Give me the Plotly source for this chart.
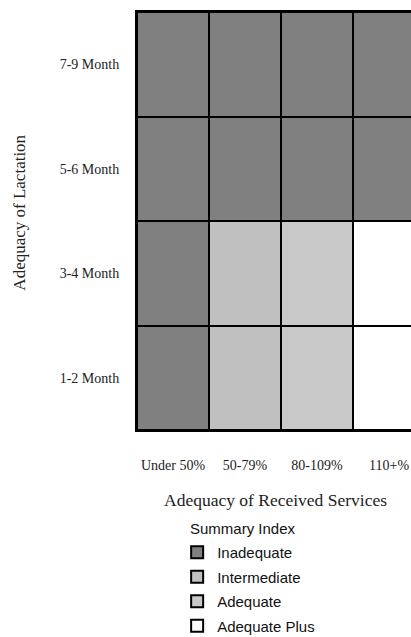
import plotly.graph_objects as go

services = ["Under 50%", "50-79%", "80-109%", "110+%"]
lactation = ["1-2 Month", "3-4 Month", "5-6 Month", "7-9 Month"]
categories = ["Inadequate", "Intermediate", "Adequate", "Adequate Plus"]
category_colors = ["#808080", "#c0c0c0", "#c8c8c8", "#ffffff"]

# category index per cell: rows follow `lactation`, columns follow `services`
summary_index = [
    [0, 1, 2, 3],
    [0, 1, 2, 3],
    [0, 0, 0, 0],
    [0, 0, 0, 0],
]

n = len(categories)
colorscale = []
for i, c in enumerate(category_colors):
    colorscale.append([i / n, c])
    colorscale.append([(i + 1) / n, c])

fig = go.Figure()
fig.add_trace(go.Heatmap(
    z=summary_index, x=services, y=lactation,
    zmin=-0.5, zmax=n - 0.5,
    colorscale=colorscale, showscale=False,
    xgap=2, ygap=2, hoverinfo="skip",
))

for name, col in zip(categories, category_colors):
    fig.add_trace(go.Scatter(
        x=[None], y=[None], mode="markers", name=name, legendgroup=name,
        marker=dict(symbol="square", size=12, color=col,
                    line=dict(color="black", width=2)),
    ))

serif = "Liberation Serif, Times New Roman, serif"
sans = "Liberation Sans, Arial, sans-serif"
fig.update_layout(
    width=411, height=637,
    margin=dict(l=137, r=0, t=12, b=207, autoexpand=False),
    paper_bgcolor="white", plot_bgcolor="black",
    font=dict(family=serif, size=14, color="#222"),
    xaxis=dict(
        type="category", range=[-0.5, 3.305],
        showline=True, linecolor="black", linewidth=2, mirror=True,
        showgrid=False, zeroline=False, ticks="", ticklabelstandoff=21,
        tickfont=dict(family=serif, size=14, color="#222"),
    ),
    yaxis=dict(
        type="category", range=[-0.5, 3.5],
        showline=True, linecolor="black", linewidth=2,
        showgrid=False, zeroline=False, ticks="", ticklabelstandoff=13,
        tickfont=dict(family=serif, size=14, color="#222"),
    ),
    showlegend=True,
    legend=dict(
        xref="container", yref="container",
        x=0.431, xanchor="left", y=0.1586, yanchor="top",
        font=dict(family=sans, size=15, color="#111"),
        bgcolor="rgba(0,0,0,0)", tracegroupgap=2, itemwidth=30,
    ),
    annotations=[
        dict(text="Adequacy of Lactation", textangle=-90,
             xref="paper", yref="paper", x=-0.427, y=0.52,
             xanchor="center", yanchor="middle", showarrow=False,
             font=dict(family=serif, size=17, color="#222")),
        dict(text="Adequacy of Received Services",
             xref="paper", yref="paper", x=0.505, y=-0.167,
             xanchor="center", yanchor="middle", showarrow=False,
             font=dict(family=serif, size=17.5, color="#222")),
        dict(text="Summary Index",
             xref="paper", yref="paper", x=0.185, y=-0.2345,
             xanchor="left", yanchor="middle", showarrow=False,
             font=dict(family=sans, size=15, color="#111")),
    ],
)

fig.write_html(
    "out.html",
    config={"displayModeBar": False},
    post_script="document.body.style.margin='0';document.body.style.padding='0';"
                "document.documentElement.style.overflow='hidden';",
)
